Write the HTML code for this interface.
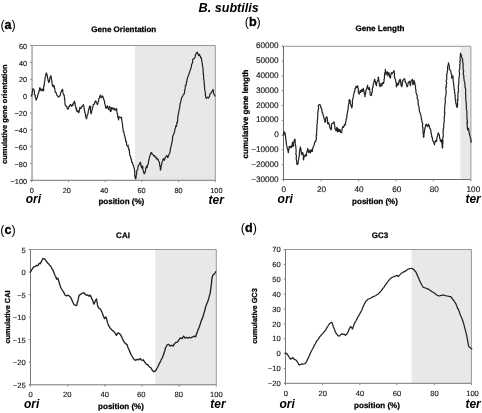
<!DOCTYPE html>
<html><head><meta charset="utf-8"><title>B. subtilis</title>
<style>
html,body{margin:0;padding:0;background:#fff;}
svg{display:block;font-family:"Liberation Sans",Arial,sans-serif;}
.t{font-size:7.6px;fill:#111;stroke:#111;stroke-width:0.12px;text-rendering:geometricPrecision;}
.b{font-size:8px;font-weight:bold;fill:#000;stroke:#000;stroke-width:0.25px;text-rendering:geometricPrecision;}
.o{font-size:12px;font-weight:bold;font-style:italic;fill:#000;}
.l{font-size:12.6px;fill:#000;}
</style></head><body>
<svg width="482" height="413" viewBox="0 0 482 413">
<rect width="482" height="413" fill="#fff"/>
<text x="198.6" y="11.5" style="font-size:12.6px;font-weight:bold;font-style:italic;fill:#000">B. subtilis</text>

<g>
<rect x="135.0" y="45.5" width="80.3" height="134.9" fill="#e8e8e8"/>
<path d="M30.3,45.5 H215.3 V180.4" fill="none" stroke="#999" stroke-width="1"/>
<path d="M32.1,45.5 V180.4" fill="none" stroke="#bababa" stroke-width="2"/>
<path d="M30.3,180.4 H215.3" fill="none" stroke="#909090" stroke-width="1.2"/>
<path d="M30.0,45.5 H31.8 M30.0,62.4 H31.8 M30.0,79.3 H31.8 M30.0,96.1 H31.8 M30.0,113.0 H31.8 M30.0,129.9 H31.8 M30.0,146.7 H31.8 M30.0,163.6 H31.8 M30.0,180.4 H31.8 M31.8,180.4 V182.2 M68.5,180.4 V182.2 M105.2,180.4 V182.2 M141.9,180.4 V182.2 M178.6,180.4 V182.2 M215.3,180.4 V182.2" fill="none" stroke="#888" stroke-width="1"/>
<text class="t" style="font-size:7.3px" x="27.0" y="48.6" text-anchor="end">60</text>
<text class="t" style="font-size:7.3px" x="27.0" y="65.5" text-anchor="end">40</text>
<text class="t" style="font-size:7.3px" x="27.0" y="82.4" text-anchor="end">20</text>
<text class="t" style="font-size:7.3px" x="27.0" y="99.2" text-anchor="end">0</text>
<text class="t" style="font-size:7.3px" x="27.0" y="116.1" text-anchor="end">−20</text>
<text class="t" style="font-size:7.3px" x="27.0" y="133.0" text-anchor="end">−40</text>
<text class="t" style="font-size:7.3px" x="27.0" y="149.8" text-anchor="end">−60</text>
<text class="t" style="font-size:7.3px" x="27.0" y="166.7" text-anchor="end">−80</text>
<text class="t" style="font-size:7.3px" x="27.0" y="183.5" text-anchor="end">−100</text>
<text class="t" style="font-size:7.3px" x="31.8" y="192.9" text-anchor="middle">0</text>
<text class="t" style="font-size:7.3px" x="66.7" y="192.9" text-anchor="middle">20</text>
<text class="t" style="font-size:7.3px" x="104.2" y="192.9" text-anchor="middle">40</text>
<text class="t" style="font-size:7.3px" x="141.6" y="192.9" text-anchor="middle">60</text>
<text class="t" style="font-size:7.3px" x="178.6" y="192.9" text-anchor="middle">80</text>
<text class="t" style="font-size:7.3px" x="216.4" y="192.9" text-anchor="middle">100</text>
<path d="M31.7,96.0 L31.7,95.5 L32.2,93.0 L32.2,92.2 L32.5,91.6 L32.6,89.8 L32.9,88.6 L33.8,89.4 L34.2,90.4 L34.4,90.6 L34.4,93.2 L34.5,94.7 L34.8,95.0 L35.4,95.1 L35.1,97.1 L36.0,97.9 L35.8,99.0 L36.3,100.2 L36.4,98.6 L37.1,98.1 L37.5,97.1 L37.6,95.5 L37.9,94.9 L38.2,93.0 L38.7,93.0 L38.8,91.9 L39.2,90.2 L39.7,90.5 L39.5,88.4 L40.0,87.7 L40.5,89.2 L41.0,89.6 L41.1,90.8 L41.8,90.1 L42.1,88.8 L42.6,90.0 L43.4,90.8 L43.7,90.4 L43.7,88.7 L43.5,86.8 L44.2,86.0 L43.9,85.1 L44.4,84.2 L44.4,82.5 L44.6,81.5 L44.8,80.8 L45.0,78.9 L45.2,76.9 L45.2,77.1 L45.9,75.6 L45.8,74.2 L46.2,73.1 L46.7,73.2 L46.9,75.2 L47.2,75.3 L47.5,75.8 L47.5,78.2 L47.7,78.4 L48.0,79.3 L48.1,80.6 L48.8,80.5 L48.7,82.5 L49.2,82.1 L49.5,80.9 L49.7,79.5 L49.8,78.4 L50.2,77.3 L50.2,77.3 L50.8,75.7 L51.1,76.2 L51.2,78.0 L51.4,78.9 L51.7,80.6 L51.9,81.5 L52.1,82.4 L52.0,83.0 L52.3,84.8 L52.9,86.2 L52.9,86.7 L53.6,86.6 L53.9,85.2 L54.0,87.0 L54.5,86.6 L54.3,87.6 L54.9,89.2 L55.0,90.8 L55.3,92.3 L56.0,92.3 L56.6,94.4 L57.0,95.3 L57.5,95.7 L58.3,97.1 L59.4,96.2 L60.2,95.6 L60.4,94.3 L60.6,92.9 L61.2,91.9 L61.6,90.3 L61.8,90.9 L62.4,89.2 L62.7,89.8 L62.9,92.2 L62.8,91.8 L63.3,93.9 L63.6,94.9 L64.3,95.0 L64.2,96.5 L64.6,97.4 L64.5,99.4 L64.9,99.6 L64.7,101.0 L64.9,102.0 L65.0,103.3 L65.0,103.8 L65.3,105.4 L66.4,106.6 L66.8,106.4 L67.1,108.0 L67.5,109.1 L68.0,109.1 L68.7,108.0 L68.9,106.3 L69.5,106.4 L70.3,104.6 L70.7,104.7 L71.6,106.3 L72.0,106.0 L72.4,104.4 L73.0,105.1 L73.2,103.3 L74.0,102.3 L74.5,101.2 L74.6,101.9 L74.8,103.6 L75.2,103.7 L75.2,105.7 L75.7,106.4 L75.8,107.4 L76.1,109.2 L76.7,108.5 L76.5,110.2 L77.0,111.6 L77.7,111.6 L77.8,110.5 L78.1,111.0 L78.6,112.6 L79.0,112.3 L79.4,110.2 L79.6,109.9 L79.6,109.4 L79.9,107.4 L80.3,108.4 L81.1,108.5 L81.5,106.8 L82.4,106.4 L83.1,105.0 L83.4,104.7 L83.8,106.1 L84.0,106.8 L83.9,107.8 L84.4,109.6 L84.4,110.5 L85.0,112.4 L84.7,112.7 L85.0,112.7 L85.5,114.7 L85.5,116.5 L86.2,117.4 L86.2,118.0 L86.5,118.8 L86.9,117.6 L87.0,116.2 L87.0,115.3 L87.7,114.8 L87.8,113.7 L88.3,112.5 L88.1,112.2 L88.7,109.6 L88.8,108.7 L89.0,108.5 L89.2,108.4 L89.5,106.3 L90.2,106.0 L90.7,107.1 L90.3,107.9 L90.5,110.3 L90.6,111.9 L90.9,113.3 L91.1,113.7 L91.6,112.2 L91.5,111.5 L91.8,110.8 L92.3,109.5 L92.3,107.5 L93.1,107.0 L93.1,106.3 L93.2,104.5 L93.6,104.3 L94.4,104.2 L94.8,102.2 L95.7,100.9 L96.0,101.2 L96.3,102.6 L97.2,103.6 L97.3,104.7 L97.8,103.9 L98.0,102.5 L98.5,101.2 L98.7,99.7 L98.8,98.7 L99.6,98.0 L99.6,97.3 L99.8,96.0 L100.5,95.3 L100.6,95.0 L100.8,95.5 L101.1,97.5 L101.4,97.7 L102.3,96.5 L102.7,96.0 L102.9,97.1 L103.4,98.3 L103.5,98.2 L103.9,100.2 L104.1,100.3 L104.6,101.4 L104.6,103.5 L105.2,104.3 L105.3,105.9 L105.6,107.1 L105.6,107.4 L106.0,108.5 L106.6,106.8 L107.1,106.2 L107.3,106.0 L107.8,108.1 L108.3,108.0 L108.5,109.5 L108.5,108.5 L109.3,107.0 L109.3,106.4 L109.8,106.7 L110.1,107.5 L110.0,110.3 L110.5,111.4 L110.6,111.6 L111.1,111.0 L111.3,108.9 L111.5,107.8 L111.8,107.4 L112.6,108.8 L113.1,109.5 L113.5,108.1 L114.3,108.5 L115.0,110.1 L115.1,110.5 L115.8,109.6 L116.4,108.5 L116.8,109.4 L116.7,110.2 L116.7,110.6 L117.1,112.4 L117.2,113.7 L117.5,114.0 L117.6,115.4 L117.7,116.9 L118.4,118.4 L118.5,119.9 L118.7,119.1 L118.8,116.8 L119.3,116.8 L119.9,117.3 L120.5,117.8 L121.4,117.2 L121.6,118.2 L121.8,119.9 L121.7,120.6 L122.0,121.2 L122.2,123.0 L122.4,124.0 L122.8,126.1 L122.6,126.7 L122.6,126.8 L123.1,129.6 L123.2,130.1 L123.3,131.7 L124.0,131.8 L124.1,133.9 L124.2,134.6 L124.5,135.3 L124.9,136.5 L125.2,138.1 L125.5,138.5 L125.3,138.9 L125.7,140.5 L125.8,141.6 L126.4,141.6 L126.6,144.0 L126.6,144.6 L127.0,145.6 L127.4,145.9 L128.2,145.2 L128.1,147.5 L128.8,148.0 L128.7,149.9 L129.3,149.6 L129.4,152.3 L129.5,152.9 L129.7,154.2 L129.8,155.5 L130.0,155.6 L130.6,156.4 L130.7,157.5 L130.8,158.7 L131.5,159.2 L131.5,159.9 L131.6,162.1 L132.1,162.3 L132.6,162.4 L132.7,163.8 L132.9,164.9 L133.1,165.0 L133.7,165.9 L133.8,167.5 L133.9,167.4 L134.4,169.0 L134.4,169.3 L134.6,171.7 L134.9,172.1 L134.6,174.0 L134.7,175.3 L135.0,176.3 L135.0,177.5 L135.6,178.7 L135.6,178.9 L136.1,177.8 L136.0,177.2 L136.2,175.3 L136.6,174.4 L136.5,172.8 L136.5,172.8 L136.7,171.6 L137.1,170.1 L137.4,170.0 L137.8,169.0 L137.9,167.0 L138.1,166.2 L138.7,165.4 L139.2,164.3 L139.5,163.9 L140.0,162.8 L140.4,162.3 L140.6,162.3 L140.8,164.3 L141.0,165.4 L141.1,166.1 L141.6,167.5 L141.6,168.0 L141.9,167.3 L142.2,165.9 L142.5,166.1 L142.9,167.5 L142.7,168.2 L143.2,170.6 L143.5,171.0 L143.5,172.2 L144.1,173.0 L144.1,174.0 L144.7,173.2 L145.2,171.8 L145.4,171.7 L145.6,169.6 L145.7,167.9 L146.2,167.6 L146.4,166.5 L146.6,166.2 L147.0,168.0 L147.2,166.8 L147.4,166.7 L147.6,164.9 L148.0,164.2 L148.4,163.0 L148.5,161.3 L148.7,160.7 L149.1,159.5 L149.3,158.2 L149.6,156.9 L149.9,156.3 L150.1,155.0 L150.7,154.6 L150.7,153.0 L151.6,152.4 L152.1,153.8 L152.2,154.0 L153.0,154.5 L153.5,155.5 L153.7,156.1 L154.5,155.6 L154.8,156.1 L155.3,157.6 L156.1,157.1 L156.6,158.9 L156.8,159.2 L157.6,158.7 L158.0,159.0 L158.4,160.7 L159.0,161.5 L159.3,162.3 L159.4,162.6 L159.7,165.2 L159.9,165.9 L160.0,166.7 L160.3,167.0 L160.3,169.9 L160.5,170.1 L160.8,168.8 L161.0,168.2 L161.1,167.0 L161.2,165.3 L161.8,164.4 L161.7,163.9 L161.7,163.7 L162.2,161.9 L162.4,161.3 L162.7,160.7 L163.0,159.2 L163.6,158.7 L163.7,159.8 L164.2,160.2 L164.7,159.8 L164.9,158.2 L165.5,157.1 L165.8,156.8 L166.3,156.1 L167.1,155.6 L167.3,156.7 L167.8,157.6 L168.0,157.2 L168.6,155.6 L169.2,154.2 L169.4,153.5 L169.5,153.4 L170.1,152.1 L170.2,150.4 L170.2,150.1 L170.7,147.9 L170.9,147.3 L171.0,146.7 L171.5,144.6 L171.5,144.1 L171.8,142.4 L172.2,142.0 L172.1,141.0 L172.5,140.3 L172.5,138.3 L172.7,136.9 L172.6,136.9 L173.0,135.3 L173.4,134.9 L173.7,134.0 L174.3,132.8 L174.7,131.2 L174.7,130.2 L175.2,128.4 L175.5,128.0 L175.7,125.9 L176.4,126.4 L176.8,124.5 L176.8,122.4 L177.3,122.9 L177.6,121.3 L177.5,120.6 L177.8,118.8 L177.7,118.0 L177.9,116.3 L178.3,115.0 L178.3,113.6 L178.8,112.8 L178.9,111.1 L179.0,110.5 L179.3,109.0 L179.5,108.9 L179.9,106.0 L180.0,106.4 L179.9,104.3 L180.2,103.3 L180.5,103.1 L180.7,102.0 L181.2,99.5 L181.5,98.2 L181.5,98.1 L181.9,97.4 L182.7,96.0 L183.1,94.9 L184.0,94.4 L184.0,93.2 L184.7,92.9 L184.5,90.1 L185.2,89.0 L185.2,88.8 L185.3,86.8 L185.4,85.4 L185.9,85.6 L186.2,84.6 L186.4,82.5 L186.5,81.5 L186.9,81.4 L187.2,78.9 L187.1,79.3 L187.7,77.3 L188.2,76.0 L188.6,75.4 L189.0,74.2 L189.3,72.3 L189.5,72.0 L189.7,71.9 L190.2,70.1 L190.5,69.2 L191.0,68.2 L191.3,67.0 L191.5,65.3 L191.6,65.1 L191.9,63.9 L192.6,62.6 L192.7,60.7 L192.8,59.1 L193.7,59.0 L193.9,58.3 L194.5,58.4 L195.2,56.6 L195.2,55.7 L195.8,54.0 L196.1,54.2 L196.4,52.9 L197.3,52.2 L197.7,53.5 L198.1,53.7 L198.5,55.6 L199.3,54.4 L199.8,54.9 L199.7,55.6 L200.4,56.4 L200.6,57.6 L201.4,57.6 L201.4,59.3 L201.9,60.4 L201.8,60.6 L201.9,61.9 L202.2,62.8 L202.3,63.7 L202.6,66.1 L202.6,65.6 L202.8,67.5 L203.1,69.2 L203.2,70.3 L203.1,71.1 L203.2,73.1 L203.5,73.1 L203.2,74.4 L203.6,75.1 L203.6,77.2 L203.5,78.9 L203.9,79.4 L204.1,80.2 L204.0,81.5 L204.2,83.5 L204.4,84.2 L204.3,86.2 L204.5,86.2 L204.7,87.7 L204.6,89.9 L205.0,90.9 L205.3,92.2 L205.4,93.3 L205.6,94.2 L205.2,94.9 L205.6,96.0 L205.9,97.8 L206.3,98.1 L206.4,98.5 L207.2,97.5 L207.6,97.1 L208.3,97.9 L208.5,98.1 L208.8,97.2 L209.6,96.5 L209.7,95.6 L209.9,93.9 L210.5,93.5 L211.3,92.8 L211.8,91.9 L212.4,90.4 L212.6,90.7 L213.0,89.4 L213.0,89.8 L213.5,91.4 L213.4,92.6 L213.9,94.4 L214.6,95.2 L215.1,96.0" fill="none" stroke="#222" stroke-width="1.2" stroke-linejoin="round" stroke-linecap="round"/>
<text class="b" x="123.8" y="31.8" text-anchor="middle">Gene Orientation</text>
<text class="b" x="121.3" y="203.9" text-anchor="middle">position (%)</text>
<text class="b" style="font-size:7.5px" transform="translate(7.0,114.2) rotate(-90)" text-anchor="middle">cumulative gene orientation</text>
<text class="o" x="25.7" y="202.9">ori</text>
<text class="o" x="208.6" y="203.6">ter</text>
<text class="l" x="0.4" y="28.5">(<tspan font-weight="bold" stroke="#000" stroke-width="0.3">a</tspan>)</text>
</g>
<g>
<rect x="460.5" y="46.3" width="10.4" height="133.2" fill="#e8e8e8"/>
<path d="M282.0,46.3 H470.9 V179.5" fill="none" stroke="#999" stroke-width="1"/>
<path d="M283.5,46.3 V179.5 M282.0,179.5 H470.9" fill="none" stroke="#666" stroke-width="1"/>
<path d="M281.7,46.3 H283.5 M281.7,61.1 H283.5 M281.7,75.9 H283.5 M281.7,90.7 H283.5 M281.7,105.5 H283.5 M281.7,120.3 H283.5 M281.7,135.1 H283.5 M281.7,149.9 H283.5 M281.7,164.7 H283.5 M281.7,179.5 H283.5 M283.5,179.5 V181.3 M321.0,179.5 V181.3 M358.5,179.5 V181.3 M395.9,179.5 V181.3 M433.4,179.5 V181.3 M470.9,179.5 V181.3" fill="none" stroke="#888" stroke-width="1"/>
<text class="t" style="font-size:8.2px" x="278.7" y="48.3" text-anchor="end">60000</text>
<text class="t" style="font-size:8.2px" x="278.7" y="63.1" text-anchor="end">50000</text>
<text class="t" style="font-size:8.2px" x="278.7" y="77.9" text-anchor="end">40000</text>
<text class="t" style="font-size:8.2px" x="278.7" y="92.7" text-anchor="end">30000</text>
<text class="t" style="font-size:8.2px" x="278.7" y="107.5" text-anchor="end">20000</text>
<text class="t" style="font-size:8.2px" x="278.7" y="122.3" text-anchor="end">10000</text>
<text class="t" style="font-size:8.2px" x="278.7" y="137.1" text-anchor="end">0</text>
<text class="t" style="font-size:8.2px" x="278.7" y="151.9" text-anchor="end">−10000</text>
<text class="t" style="font-size:8.2px" x="278.7" y="166.7" text-anchor="end">−20000</text>
<text class="t" style="font-size:8.2px" x="278.7" y="181.5" text-anchor="end">−30000</text>
<text class="t" style="font-size:8.2px" x="283.8" y="192.3" text-anchor="middle">0</text>
<text class="t" style="font-size:8.2px" x="321.5" y="192.3" text-anchor="middle">20</text>
<text class="t" style="font-size:8.2px" x="359.0" y="192.3" text-anchor="middle">40</text>
<text class="t" style="font-size:8.2px" x="396.7" y="192.3" text-anchor="middle">60</text>
<text class="t" style="font-size:8.2px" x="434.3" y="192.3" text-anchor="middle">80</text>
<text class="t" style="font-size:8.2px" x="473.4" y="192.3" text-anchor="middle">100</text>
<path d="M283.3,135.0 L283.9,134.8 L283.6,132.1 L284.1,131.9 L284.8,132.9 L285.0,132.9 L285.2,133.8 L285.4,135.6 L285.5,136.0 L285.6,137.7 L285.8,139.1 L286.1,141.4 L286.4,141.7 L286.3,142.4 L286.2,143.2 L286.6,145.4 L286.9,146.0 L287.1,148.2 L287.5,148.5 L287.7,149.6 L287.7,149.6 L288.0,150.9 L288.3,152.6 L288.5,152.4 L288.7,149.5 L289.0,149.5 L289.1,148.4 L289.1,146.4 L289.7,147.5 L290.0,147.4 L290.3,147.7 L290.8,146.0 L291.5,146.0 L291.6,147.4 L291.9,146.8 L291.9,145.4 L292.1,145.2 L292.3,143.9 L292.4,142.2 L292.6,144.0 L293.1,144.2 L293.1,146.2 L293.3,146.4 L293.6,145.1 L293.4,143.5 L293.9,142.0 L294.2,140.9 L294.1,140.2 L294.8,139.3 L294.9,139.1 L295.3,140.7 L295.1,141.5 L295.3,142.8 L295.2,143.2 L295.5,145.8 L295.6,145.3 L295.9,147.7 L295.8,148.5 L296.1,149.1 L296.1,150.1 L296.1,151.7 L295.9,154.2 L295.9,154.7 L296.5,155.4 L296.2,157.9 L296.4,158.9 L296.2,159.4 L296.6,160.9 L296.7,162.5 L296.9,164.3 L297.4,164.6 L297.6,164.3 L298.3,163.0 L298.1,161.3 L298.8,159.8 L298.6,159.6 L298.9,157.1 L299.1,156.8 L299.5,154.8 L299.1,154.0 L299.7,153.5 L299.5,151.5 L299.9,150.5 L299.8,149.2 L300.4,148.5 L300.3,146.8 L300.8,148.5 L301.0,149.6 L300.9,149.8 L301.2,151.6 L301.5,152.2 L301.5,153.5 L302.0,154.7 L302.6,152.9 L302.8,152.6 L303.0,153.6 L303.1,154.3 L303.5,155.8 L303.4,157.3 L303.2,158.8 L303.7,159.9 L303.7,158.0 L303.9,157.1 L304.5,156.8 L304.7,156.0 L305.3,154.7 L305.7,156.2 L306.1,155.7 L306.6,155.7 L306.4,153.5 L306.6,152.8 L307.0,151.6 L307.3,151.1 L307.6,149.0 L307.8,148.5 L308.0,149.6 L307.9,149.6 L308.4,150.8 L308.6,152.6 L309.2,151.1 L309.5,150.5 L309.5,150.7 L309.9,151.6 L310.3,153.0 L310.6,151.8 L310.7,151.0 L311.1,149.5 L311.4,151.4 L312.0,151.6 L312.5,151.0 L312.5,149.5 L312.8,148.5 L313.2,146.5 L313.6,146.4 L314.0,145.4 L314.4,144.3 L314.5,142.5 L315.2,142.0 L315.3,141.2 L315.7,141.5 L316.1,140.2 L316.3,138.6 L316.6,137.6 L316.1,137.1 L316.2,135.2 L316.8,134.7 L316.4,133.2 L316.7,132.1 L316.7,131.1 L316.9,129.8 L316.7,128.1 L317.0,128.1 L316.9,126.5 L317.0,124.8 L317.2,123.3 L317.5,121.9 L317.1,120.1 L317.2,120.3 L317.6,119.2 L317.7,116.1 L317.7,116.3 L317.8,114.5 L317.8,113.2 L317.8,112.0 L318.2,110.5 L318.1,109.8 L318.5,109.3 L318.6,108.2 L318.3,105.9 L318.6,105.3 L319.4,104.5 L320.2,104.9 L320.5,105.5 L320.8,107.3 L321.1,108.0 L321.6,109.1 L321.8,109.0 L321.9,110.7 L322.2,112.7 L322.7,112.8 L322.7,113.7 L322.9,114.0 L323.6,116.9 L323.6,116.9 L323.9,117.0 L324.0,118.1 L324.4,119.4 L324.8,120.8 L324.9,121.5 L325.2,122.5 L325.2,121.6 L325.8,121.0 L325.5,119.5 L326.0,117.9 L326.1,117.3 L326.9,116.9 L327.3,118.0 L327.3,119.0 L327.6,120.8 L327.5,120.6 L327.5,121.5 L327.7,123.6 L328.2,123.8 L328.5,122.5 L328.8,123.6 L329.4,124.6 L329.6,125.5 L329.9,127.6 L330.1,127.7 L330.2,128.8 L330.9,128.9 L331.0,129.8 L331.4,128.9 L331.5,128.0 L331.4,126.3 L331.6,125.1 L331.9,123.6 L332.7,123.2 L333.4,122.8 L333.5,121.9 L334.4,122.5 L334.2,123.7 L334.8,125.8 L334.9,126.9 L334.7,128.4 L335.2,128.8 L335.7,130.0 L336.0,130.8 L336.5,130.4 L336.3,129.1 L336.8,127.3 L337.2,127.8 L337.4,129.8 L337.3,131.3 L337.7,131.9 L337.7,131.1 L338.2,129.3 L338.5,128.8 L338.8,129.6 L338.9,131.5 L339.3,131.5 L339.5,129.6 L340.2,129.8 L340.4,131.5 L340.8,132.4 L341.0,132.9 L341.4,132.7 L341.8,131.9 L341.9,130.4 L342.2,128.8 L342.1,129.3 L342.3,128.2 L342.7,126.7 L343.5,127.3 L343.9,126.2 L344.1,126.1 L344.3,124.6 L345.1,125.2 L345.6,123.3 L345.5,122.5 L346.0,121.5 L346.1,120.0 L346.0,119.5 L346.8,118.1 L346.7,117.1 L346.8,116.3 L346.9,116.0 L347.0,114.5 L347.3,113.3 L347.7,111.3 L347.6,111.1 L348.0,109.5 L348.1,109.2 L348.2,107.2 L348.5,105.3 L348.5,104.9 L348.7,103.6 L348.8,103.5 L349.1,102.0 L349.0,100.2 L349.3,99.7 L349.7,99.7 L350.1,100.7 L350.2,102.7 L350.2,103.5 L350.5,103.6 L350.7,104.1 L351.0,105.9 L351.3,106.3 L351.8,108.0 L351.9,106.4 L352.3,106.4 L352.2,104.7 L352.6,102.8 L352.2,101.4 L352.6,100.7 L352.6,100.1 L352.9,98.4 L353.3,97.1 L353.5,96.9 L353.4,95.6 L353.6,95.2 L353.8,94.2 L354.3,92.5 L354.3,91.4 L354.7,91.3 L355.0,89.8 L355.1,88.3 L355.7,88.1 L355.9,86.2 L356.5,87.7 L356.8,87.3 L357.1,86.8 L357.6,85.8 L357.9,86.7 L357.9,87.4 L358.4,88.9 L358.2,91.1 L358.4,91.4 L358.5,93.2 L358.8,92.3 L359.3,94.1 L359.4,92.6 L360.1,92.4 L360.1,90.4 L360.7,91.3 L360.9,92.4 L361.2,90.9 L361.7,90.2 L361.7,89.3 L362.0,90.6 L362.6,91.4 L362.6,90.0 L363.4,88.5 L363.4,88.3 L363.4,88.7 L363.7,90.2 L363.9,91.1 L364.2,92.4 L364.3,93.0 L364.7,94.2 L364.8,96.1 L365.1,96.6 L365.0,94.6 L365.6,94.0 L365.7,92.1 L365.7,92.3 L365.9,90.4 L366.2,89.9 L366.7,88.3 L367.1,87.1 L367.6,86.0 L367.6,85.2 L367.7,86.5 L367.9,87.9 L368.2,88.5 L368.4,89.3 L368.8,89.3 L369.2,87.3 L369.7,89.2 L369.6,89.6 L369.8,90.1 L370.0,92.3 L370.1,94.4 L370.5,95.3 L371.1,95.6 L371.6,95.3 L371.6,93.0 L372.2,92.3 L372.5,90.2 L372.2,89.8 L372.4,88.3 L372.9,87.1 L373.2,87.1 L373.1,85.8 L373.1,85.5 L373.5,83.5 L373.9,82.5 L374.2,80.7 L374.5,79.4 L374.8,79.2 L374.8,81.1 L375.4,81.4 L375.6,83.2 L375.7,83.6 L375.9,84.6 L376.5,85.8 L376.5,83.9 L376.7,83.0 L376.9,81.9 L377.4,81.4 L377.6,80.6 L378.1,80.0 L378.2,78.1 L378.3,77.0 L378.7,77.5 L378.4,79.9 L378.9,79.7 L378.9,81.0 L379.2,82.5 L379.3,83.4 L379.5,85.3 L380.0,85.9 L380.0,86.8 L380.3,85.3 L380.8,85.6 L380.9,83.6 L381.2,85.1 L381.8,85.8 L382.2,85.0 L382.1,83.7 L382.6,82.5 L382.9,82.4 L383.5,83.6 L383.7,82.8 L383.9,81.9 L384.1,80.3 L383.8,79.8 L384.4,78.8 L384.4,77.0 L384.6,74.8 L384.5,73.7 L384.9,73.3 L384.8,72.9 L385.4,71.5 L385.3,69.4 L385.4,70.1 L385.4,72.2 L385.9,72.2 L386.2,73.9 L386.1,74.9 L386.4,73.6 L386.8,72.6 L387.0,71.6 L387.3,71.9 L387.6,73.3 L387.9,74.3 L387.9,75.9 L388.1,74.9 L388.4,73.8 L388.7,72.7 L389.2,73.2 L389.3,75.2 L389.6,75.8 L389.6,77.0 L390.0,77.3 L390.5,78.1 L390.6,76.5 L390.6,75.9 L390.8,74.8 L391.2,73.4 L391.4,72.7 L391.6,73.4 L392.2,73.8 L392.9,72.5 L393.1,72.2 L393.6,71.7 L394.0,70.5 L394.3,72.1 L394.1,72.5 L394.6,73.9 L394.3,76.3 L394.5,76.5 L394.8,78.1 L395.0,78.7 L395.6,80.0 L395.7,81.4 L395.8,82.3 L396.3,82.6 L396.3,83.9 L396.2,86.0 L396.6,86.8 L396.8,84.9 L397.2,85.5 L397.5,83.6 L398.0,84.1 L398.3,84.7 L398.7,84.4 L398.5,82.1 L399.3,82.2 L399.2,80.3 L399.5,80.2 L400.1,79.2 L400.5,80.5 L400.6,81.4 L400.6,81.9 L400.9,83.6 L401.0,85.0 L401.3,86.0 L401.8,86.8 L401.9,85.6 L402.4,84.4 L402.2,83.3 L402.2,81.9 L402.6,82.0 L402.7,80.3 L402.9,80.7 L403.6,79.2 L404.4,78.8 L404.8,79.1 L405.1,81.1 L405.3,82.5 L405.7,82.2 L406.2,83.6 L406.5,84.7 L406.9,85.9 L407.0,86.8 L407.6,86.2 L407.9,84.7 L408.2,82.6 L408.8,82.5 L409.2,81.2 L409.7,81.4 L409.7,82.1 L410.1,83.8 L410.4,85.5 L410.5,85.8 L410.5,84.8 L410.6,83.9 L411.0,81.8 L411.1,81.7 L411.4,80.3 L411.8,80.6 L412.3,79.2 L412.4,80.0 L412.9,81.6 L412.6,83.1 L412.9,84.5 L413.1,84.7 L413.4,84.2 L413.8,82.5 L414.1,80.4 L414.0,80.3 L414.3,82.1 L414.9,82.5 L414.7,84.1 L415.5,85.5 L415.5,85.4 L415.5,87.8 L415.6,88.7 L415.8,90.1 L416.1,90.5 L415.9,92.5 L416.7,94.0 L416.6,94.5 L416.9,95.1 L417.3,95.7 L417.1,98.3 L417.5,98.8 L417.9,99.7 L418.1,100.2 L418.1,101.2 L418.0,102.6 L418.4,104.3 L418.2,105.2 L418.7,106.0 L419.0,106.6 L419.1,108.7 L419.2,109.7 L419.5,111.6 L419.6,111.7 L420.1,113.0 L420.4,113.8 L421.0,115.3 L421.0,116.3 L421.2,117.2 L421.4,119.3 L421.8,119.8 L421.9,120.6 L421.9,121.9 L422.2,122.5 L422.7,123.9 L422.6,124.9 L422.4,126.6 L423.1,127.7 L422.9,128.1 L422.9,129.8 L423.0,130.7 L423.0,132.9 L423.5,134.3 L423.4,133.9 L423.4,136.8 L423.6,137.3 L424.0,136.2 L423.9,135.2 L423.9,134.0 L424.2,133.1 L424.4,131.4 L424.6,129.9 L424.8,128.7 L425.0,128.3 L425.5,126.0 L425.6,124.9 L426.6,124.1 L426.9,125.7 L427.4,126.0 L427.6,126.6 L428.2,125.0 L428.3,125.1 L428.5,124.1 L428.9,126.1 L429.5,126.1 L429.5,127.4 L429.9,128.7 L430.3,128.8 L430.5,129.9 L431.0,130.8 L430.8,132.7 L431.4,133.4 L431.5,134.9 L431.8,137.1 L432.2,137.2 L432.5,138.7 L432.5,139.8 L433.0,141.0 L433.5,141.5 L434.0,143.4 L434.3,144.0 L434.5,144.8 L434.7,142.9 L435.0,142.0 L435.5,141.4 L435.5,140.7 L436.5,141.5 L436.8,140.8 L436.7,139.8 L437.0,137.2 L437.4,136.7 L437.5,135.7 L438.1,134.7 L437.9,133.1 L438.5,133.2 L438.6,134.3 L439.3,134.5 L439.5,136.5 L439.6,137.7 L440.2,139.9 L440.5,140.5 L440.5,141.5 L441.0,140.1 L441.5,139.8 L441.7,140.4 L441.7,142.9 L442.0,143.8 L442.0,144.1 L442.2,145.9 L442.2,147.6 L442.5,148.1 L442.8,146.3 L442.4,146.3 L442.8,143.8 L442.8,142.6 L443.0,142.1 L442.8,140.0 L442.8,139.4 L442.8,137.5 L442.8,137.3 L443.3,136.4 L443.2,135.0 L443.2,133.2 L443.0,131.5 L443.5,130.0 L443.2,130.4 L443.4,128.1 L443.6,128.3 L443.8,126.6 L443.6,126.1 L443.9,124.2 L444.0,122.1 L444.4,120.9 L444.4,121.1 L444.3,120.0 L444.1,117.1 L444.5,116.6 L444.5,114.5 L444.8,114.2 L444.8,112.4 L444.4,112.4 L444.6,110.2 L444.6,109.3 L444.8,107.3 L444.6,106.3 L444.9,105.4 L445.2,103.5 L445.0,103.2 L445.3,102.3 L445.4,101.2 L445.2,100.2 L445.2,97.3 L445.4,97.4 L445.7,96.5 L445.8,94.5 L446.2,94.1 L446.0,91.7 L446.3,91.2 L445.9,89.6 L445.8,87.3 L446.3,87.4 L446.5,86.3 L446.1,85.0 L446.7,83.6 L446.4,81.6 L446.2,81.0 L446.8,78.8 L446.8,79.1 L446.7,77.0 L446.7,76.5 L446.7,74.1 L447.1,74.1 L447.2,71.2 L447.6,71.0 L447.6,69.0 L447.6,68.3 L447.6,66.4 L447.7,66.0 L448.0,65.4 L448.5,63.6 L448.4,62.9 L448.9,64.3 L448.8,64.4 L449.4,66.5 L449.3,67.2 L449.3,68.7 L449.8,69.3 L450.2,70.5 L450.8,71.0 L451.0,72.7 L451.1,73.8 L451.6,74.0 L451.8,76.4 L451.5,77.4 L451.9,78.1 L452.4,77.5 L452.8,75.9 L453.0,76.8 L453.1,78.0 L453.2,79.6 L453.1,80.5 L453.4,82.1 L453.7,83.6 L453.8,85.2 L453.8,85.9 L454.0,86.3 L454.0,88.8 L454.6,89.7 L454.5,90.1 L454.5,90.7 L454.5,92.2 L454.9,92.9 L455.0,95.5 L455.4,95.7 L455.0,98.2 L455.4,98.8 L455.5,99.5 L455.5,100.5 L455.7,101.6 L455.8,103.2 L456.3,103.9 L456.3,105.4 L456.7,106.4 L457.1,107.5 L457.4,106.9 L457.6,104.5 L457.6,103.6 L457.5,102.8 L457.6,101.2 L457.4,99.4 L458.0,100.0 L457.8,97.2 L458.1,96.8 L457.9,95.9 L458.0,94.5 L457.9,92.6 L458.4,92.4 L458.5,90.5 L458.6,90.2 L458.4,88.9 L458.3,86.0 L458.7,84.9 L458.6,84.8 L458.8,82.5 L458.9,80.8 L458.9,81.3 L458.9,79.2 L459.0,77.6 L459.3,77.3 L459.3,76.4 L459.5,74.6 L459.5,73.3 L459.2,71.6 L459.3,69.9 L459.6,69.5 L459.8,67.6 L459.9,66.7 L459.8,66.1 L459.7,64.5 L460.2,64.1 L460.0,61.9 L459.8,61.1 L460.4,60.1 L460.3,59.8 L460.0,57.5 L460.3,56.1 L460.4,55.8 L460.3,54.6 L460.6,53.1 L460.9,54.5 L461.5,55.3 L461.6,56.9 L462.0,58.1 L462.4,58.5 L462.8,59.9 L462.3,60.7 L463.0,62.5 L463.0,63.4 L463.2,65.5 L463.1,66.1 L462.9,66.1 L463.2,68.3 L463.2,70.0 L463.6,71.3 L463.7,71.0 L463.3,72.6 L463.4,74.5 L464.0,76.3 L463.6,77.0 L464.0,78.2 L464.0,78.6 L464.1,80.3 L464.6,82.2 L464.8,82.6 L465.0,83.6 L464.8,84.4 L465.0,85.6 L465.0,87.7 L465.4,88.0 L465.6,88.9 L465.7,91.4 L465.6,92.0 L465.7,94.5 L465.5,94.3 L465.9,95.8 L465.6,97.5 L465.9,98.8 L465.7,99.5 L465.9,100.5 L466.3,102.8 L466.2,103.5 L466.4,106.1 L466.6,105.5 L466.3,106.9 L466.4,109.3 L466.6,110.0 L466.9,111.8 L467.0,112.7 L466.7,114.1 L466.9,114.5 L467.0,116.9 L466.9,118.1 L467.0,119.0 L467.4,120.3 L467.3,120.9 L467.6,122.8 L467.3,122.5 L467.1,121.6 L467.1,122.2 L467.1,123.6 L467.1,125.3 L467.4,126.0 L467.2,128.3 L467.4,127.9 L467.7,129.9 L467.9,129.6 L468.4,128.2 L468.9,130.0 L468.7,131.4 L468.8,131.2 L469.4,133.2 L469.4,134.6 L469.9,135.9 L470.4,137.4 L470.4,138.2 L470.7,138.6 L471.0,141.1 L471.1,140.4 L471.0,142.3" fill="none" stroke="#222" stroke-width="1.2" stroke-linejoin="round" stroke-linecap="round"/>
<text class="b" x="380" y="31.4" text-anchor="middle">Gene Length</text>
<text class="b" x="375" y="204.4" text-anchor="middle">position (%)</text>
<text class="b" style="font-size:8px" transform="translate(247.5,114) rotate(-90)" text-anchor="middle">cumulative gene length</text>
<text class="o" x="277.6" y="202.7">ori</text>
<text class="o" x="465.4" y="202.7">ter</text>
<text class="l" x="244.7" y="26.1">(<tspan font-weight="bold" stroke="#000" stroke-width="0.3">b</tspan>)</text>
</g>
<g>
<rect x="155.3" y="249.5" width="61.0" height="135.3" fill="#e8e8e8"/>
<path d="M29.0,249.5 H216.3 V384.8" fill="none" stroke="#999" stroke-width="1"/>
<path d="M30.5,249.5 V384.8 M29.0,384.8 H216.3" fill="none" stroke="#777" stroke-width="1"/>
<path d="M28.7,249.5 H30.5 M28.7,272.1 H30.5 M28.7,294.6 H30.5 M28.7,317.1 H30.5 M28.7,339.7 H30.5 M28.7,362.2 H30.5 M28.7,384.8 H30.5 M30.5,384.8 V386.6 M67.7,384.8 V386.6 M104.8,384.8 V386.6 M142.0,384.8 V386.6 M179.1,384.8 V386.6 M216.3,384.8 V386.6" fill="none" stroke="#888" stroke-width="1"/>
<text class="t" style="font-size:7.6px" x="25.7" y="252.6" text-anchor="end">5</text>
<text class="t" style="font-size:7.6px" x="25.7" y="275.2" text-anchor="end">0</text>
<text class="t" style="font-size:7.6px" x="25.7" y="297.7" text-anchor="end">−5</text>
<text class="t" style="font-size:7.6px" x="25.7" y="320.2" text-anchor="end">−10</text>
<text class="t" style="font-size:7.6px" x="25.7" y="342.8" text-anchor="end">−15</text>
<text class="t" style="font-size:7.6px" x="25.7" y="365.4" text-anchor="end">−20</text>
<text class="t" style="font-size:7.6px" x="25.7" y="387.9" text-anchor="end">−25</text>
<text class="t" style="font-size:7.6px" x="30.5" y="397.3" text-anchor="middle">0</text>
<text class="t" style="font-size:7.6px" x="67.2" y="397.3" text-anchor="middle">20</text>
<text class="t" style="font-size:7.6px" x="104.8" y="397.3" text-anchor="middle">40</text>
<text class="t" style="font-size:7.6px" x="141.2" y="397.3" text-anchor="middle">60</text>
<text class="t" style="font-size:7.6px" x="178.7" y="397.3" text-anchor="middle">80</text>
<text class="t" style="font-size:7.6px" x="216.3" y="397.3" text-anchor="middle">100</text>
<path d="M30.5,272.0 L31.1,271.0 L31.7,269.9 L32.3,268.9 L33.0,267.8 L33.6,267.1 L34.2,266.8 L35.5,266.2 L36.7,265.3 L38.0,265.7 L38.5,264.7 L39.2,263.3 L40.4,263.7 L40.8,262.5 L41.4,261.6 L41.7,260.6 L42.4,259.5 L42.9,258.5 L44.2,258.9 L44.8,259.2 L45.4,259.9 L46.1,261.0 L46.7,261.6 L47.3,262.5 L47.9,263.3 L48.6,263.8 L49.2,264.7 L49.8,265.3 L50.4,265.7 L51.0,266.8 L51.7,268.2 L52.3,269.1 L52.9,269.9 L53.3,271.1 L53.8,272.2 L54.1,273.0 L54.5,274.2 L55.0,275.3 L55.4,276.1 L55.9,277.0 L56.2,278.1 L56.6,279.2 L57.3,278.7 L57.9,278.2 L58.3,279.5 L58.7,280.9 L59.1,282.3 L59.5,283.8 L60.0,285.3 L60.4,286.5 L61.0,288.0 L61.6,289.0 L62.3,290.3 L62.9,291.1 L63.5,291.9 L64.1,293.1 L64.8,294.5 L65.3,295.4 L66.6,295.8 L67.8,295.2 L69.1,295.8 L69.8,296.4 L70.3,296.9 L71.0,298.0 L71.6,299.4 L72.2,300.7 L72.8,302.1 L73.4,303.2 L74.1,304.8 L75.3,305.2 L76.5,305.6 L76.9,304.7 L77.1,303.4 L77.5,302.0 L77.8,301.0 L78.1,299.9 L78.5,298.2 L78.7,296.9 L79.0,295.8 L79.7,295.0 L80.3,294.4 L81.5,293.8 L82.8,293.1 L84.0,292.7 L84.7,293.8 L85.3,294.4 L86.5,295.2 L87.8,294.8 L88.4,295.8 L89.0,296.2 L89.6,295.5 L90.2,295.2 L90.9,296.3 L91.5,297.9 L92.1,299.2 L92.7,300.6 L93.2,301.6 L93.5,303.1 L94.0,304.1 L94.4,303.3 L94.9,302.0 L95.2,301.0 L95.8,300.0 L96.5,298.9 L96.7,300.4 L97.0,301.9 L97.3,303.3 L97.5,304.9 L97.7,306.2 L98.3,307.1 L99.0,308.3 L100.0,308.7 L100.8,310.0 L101.5,311.2 L102.0,312.2 L102.5,313.8 L103.0,315.0 L103.4,316.3 L104.0,317.2 L104.5,318.7 L105.2,317.8 L106.0,316.9 L106.4,318.2 L106.8,319.8 L107.0,320.8 L107.5,322.4 L108.0,323.9 L108.4,324.9 L109.0,326.2 L109.7,327.3 L110.5,328.6 L111.2,329.2 L111.9,329.9 L112.7,330.6 L113.4,331.1 L114.2,331.9 L114.9,332.9 L115.7,333.9 L116.4,335.4 L117.2,334.2 L117.9,332.9 L118.6,333.1 L119.4,333.6 L120.2,334.4 L120.9,335.4 L121.4,336.4 L121.9,337.3 L122.4,338.6 L122.9,339.6 L123.5,340.7 L123.9,341.8 L124.7,342.5 L125.4,343.6 L126.1,344.0 L126.9,344.3 L127.4,345.7 L127.8,347.0 L128.4,348.6 L128.9,349.5 L129.4,350.9 L129.9,351.8 L130.3,352.9 L130.9,354.2 L131.4,355.3 L132.2,356.5 L132.9,357.8 L133.6,358.7 L134.4,359.8 L135.1,359.9 L135.8,360.3 L136.6,359.7 L137.3,359.3 L138.1,359.5 L138.8,359.8 L139.6,359.0 L140.3,358.5 L141.0,359.6 L141.8,360.3 L142.6,360.3 L143.3,359.8 L144.1,361.2 L144.8,362.3 L145.6,363.1 L146.3,364.2 L147.1,364.7 L147.8,364.7 L148.6,365.8 L149.3,366.7 L150.0,367.2 L150.8,367.7 L151.5,368.8 L152.3,370.2 L153.0,370.9 L153.8,371.7 L154.6,371.2 L155.3,371.2 L155.8,370.4 L156.3,369.6 L156.8,368.5 L157.6,367.3 L158.3,366.0 L158.7,365.0 L159.2,363.7 L159.7,362.8 L160.3,361.8 L160.7,361.0 L161.2,359.8 L161.8,358.7 L162.2,358.0 L162.7,356.8 L163.1,355.8 L163.5,354.4 L163.9,353.6 L164.2,352.3 L164.6,351.2 L165.0,350.0 L165.4,348.3 L165.7,347.3 L166.5,346.3 L167.2,344.8 L167.9,344.5 L168.7,344.3 L169.4,345.2 L170.2,346.1 L170.9,345.7 L171.7,345.3 L172.5,345.5 L173.2,346.1 L173.9,344.6 L174.7,343.6 L175.4,342.7 L176.2,342.3 L177.0,342.3 L177.7,341.8 L178.4,340.6 L179.2,339.4 L179.9,338.5 L180.7,337.9 L181.4,338.3 L182.2,338.6 L182.9,337.3 L183.6,336.1 L184.3,337.0 L185.1,338.1 L185.8,337.8 L186.6,337.4 L187.4,337.7 L188.1,338.1 L188.8,337.6 L189.6,337.4 L190.3,337.7 L191.1,337.9 L191.9,337.3 L192.6,336.9 L193.4,336.6 L194.1,336.1 L194.8,336.4 L195.6,336.9 L196.0,335.8 L196.3,334.7 L196.7,333.4 L197.1,332.4 L197.6,331.2 L198.0,329.9 L198.6,328.6 L199.1,327.4 L199.6,325.8 L200.1,324.4 L200.5,323.4 L200.8,322.2 L201.1,321.2 L201.6,319.9 L202.1,318.9 L202.6,317.5 L203.1,316.2 L203.5,315.0 L203.7,313.8 L204.1,312.3 L204.6,311.2 L205.0,309.6 L205.2,308.3 L205.7,306.9 L206.0,305.7 L206.5,304.6 L207.0,303.3 L207.6,302.0 L208.1,300.6 L208.5,299.2 L208.9,297.4 L209.3,296.2 L209.7,294.6 L210.1,293.4 L210.4,292.1 L210.5,290.4 L210.8,289.2 L210.9,287.4 L211.2,286.2 L211.3,284.9 L211.5,283.5 L211.6,282.1 L211.7,280.8 L211.8,279.5 L212.1,278.2 L212.2,276.9 L212.7,275.7 L213.2,274.8 L213.9,274.4 L214.4,273.8 L215.1,272.8 L215.7,271.7" fill="none" stroke="#222" stroke-width="1.35" stroke-linejoin="round" stroke-linecap="round"/>
<text class="b" x="123" y="238" text-anchor="middle">CAI</text>
<text class="b" x="121" y="408.9" text-anchor="middle">position (%)</text>
<text class="b" style="font-size:7.35px" transform="translate(10.2,317) rotate(-90)" text-anchor="middle">cumulative CAI</text>
<text class="o" x="24" y="407.7">ori</text>
<text class="o" x="210.3" y="408">ter</text>
<text class="l" x="0.3" y="233.8">(<tspan font-weight="bold" stroke="#000" stroke-width="0.3">c</tspan>)</text>
</g>
<g>
<rect x="411.7" y="249.5" width="59.7" height="133.8" fill="#e8e8e8"/>
<path d="M284.0,249.5 H471.4 V383.3" fill="none" stroke="#999" stroke-width="1"/>
<path d="M285.5,249.5 V383.3 M284.0,383.3 H471.4" fill="none" stroke="#777" stroke-width="1"/>
<path d="M283.7,249.5 H285.5 M283.7,264.4 H285.5 M283.7,279.2 H285.5 M283.7,294.1 H285.5 M283.7,309.0 H285.5 M283.7,323.9 H285.5 M283.7,338.7 H285.5 M283.7,353.6 H285.5 M283.7,368.5 H285.5 M283.7,383.3 H285.5 M285.5,383.3 V385.1 M322.7,383.3 V385.1 M359.9,383.3 V385.1 M397.0,383.3 V385.1 M434.2,383.3 V385.1 M471.4,383.3 V385.1" fill="none" stroke="#888" stroke-width="1"/>
<text class="t" style="font-size:7.6px" x="280.7" y="252.1" text-anchor="end">70</text>
<text class="t" style="font-size:7.6px" x="280.7" y="267.0" text-anchor="end">60</text>
<text class="t" style="font-size:7.6px" x="280.7" y="281.8" text-anchor="end">50</text>
<text class="t" style="font-size:7.6px" x="280.7" y="296.7" text-anchor="end">40</text>
<text class="t" style="font-size:7.6px" x="280.7" y="311.6" text-anchor="end">30</text>
<text class="t" style="font-size:7.6px" x="280.7" y="326.5" text-anchor="end">20</text>
<text class="t" style="font-size:7.6px" x="280.7" y="341.3" text-anchor="end">10</text>
<text class="t" style="font-size:7.6px" x="280.7" y="356.2" text-anchor="end">0</text>
<text class="t" style="font-size:7.6px" x="280.7" y="371.1" text-anchor="end">−10</text>
<text class="t" style="font-size:7.6px" x="280.7" y="385.9" text-anchor="end">−20</text>
<text class="t" style="font-size:7.6px" x="285.8" y="396.0" text-anchor="middle">0</text>
<text class="t" style="font-size:7.6px" x="322.7" y="396.0" text-anchor="middle">20</text>
<text class="t" style="font-size:7.6px" x="359.9" y="396.0" text-anchor="middle">40</text>
<text class="t" style="font-size:7.6px" x="397.0" y="396.0" text-anchor="middle">60</text>
<text class="t" style="font-size:7.6px" x="434.6" y="396.0" text-anchor="middle">80</text>
<text class="t" style="font-size:7.6px" x="472.5" y="396.0" text-anchor="middle">100</text>
<path d="M285.3,352.9 L286.6,353.5 L287.8,355.0 L288.4,355.9 L289.1,357.1 L289.7,358.0 L290.3,359.1 L291.5,358.7 L292.8,357.5 L293.4,358.3 L294.0,359.1 L295.3,359.8 L296.5,360.6 L297.2,361.7 L297.8,362.7 L298.4,363.7 L299.0,364.9 L300.3,364.7 L301.5,363.9 L302.7,364.1 L304.0,363.9 L305.2,363.5 L305.9,362.6 L306.5,361.8 L307.1,360.4 L307.7,359.1 L308.3,357.9 L309.0,356.4 L309.6,355.1 L310.2,353.5 L310.9,352.1 L311.5,350.8 L312.1,349.8 L312.7,348.8 L313.3,347.5 L314.0,346.1 L314.6,344.9 L315.2,344.0 L315.8,342.8 L316.4,341.5 L317.1,340.6 L317.7,339.8 L318.9,338.4 L319.5,337.2 L320.2,336.3 L321.4,334.9 L322.7,333.6 L323.9,332.2 L325.2,330.7 L325.8,329.8 L326.4,328.6 L327.0,327.5 L327.6,326.6 L328.3,325.5 L328.9,324.5 L330.1,323.2 L331.4,322.4 L332.2,322.8 L332.7,324.5 L333.0,325.9 L333.7,327.5 L334.3,329.0 L334.9,330.6 L335.5,332.2 L336.1,333.1 L336.8,334.2 L338.0,335.7 L339.3,336.1 L340.5,334.9 L341.8,333.8 L343.0,334.4 L344.2,334.2 L345.5,335.3 L346.7,334.2 L347.4,333.1 L348.0,332.2 L348.6,330.6 L349.2,329.0 L349.8,327.8 L350.5,326.6 L351.7,327.6 L352.5,329.0 L353.0,327.6 L353.4,326.2 L353.8,324.9 L354.4,323.6 L355.0,322.4 L355.7,321.3 L356.3,320.3 L356.9,319.1 L357.5,317.6 L358.1,316.6 L358.8,315.6 L359.4,314.4 L360.0,313.5 L360.6,312.1 L361.4,311.0 L362.0,309.7 L362.6,308.0 L363.3,306.4 L364.0,304.7 L364.6,303.6 L365.3,302.4 L366.0,301.0 L367.0,300.3 L368.0,299.3 L368.9,298.8 L370.0,298.5 L371.0,298.0 L371.9,297.3 L372.9,296.9 L373.9,296.3 L374.9,296.0 L375.9,295.5 L376.9,294.8 L377.9,294.3 L378.9,293.2 L379.9,292.3 L380.9,291.2 L381.9,289.8 L382.9,288.4 L383.9,287.3 L384.9,285.7 L385.9,284.3 L386.9,282.9 L387.9,281.6 L388.9,280.2 L389.9,279.1 L390.9,278.2 L391.9,277.4 L392.8,277.0 L393.9,276.9 L394.8,276.3 L395.8,275.9 L397.3,275.4 L398.3,276.6 L399.1,275.6 L399.8,274.9 L400.8,273.9 L401.8,272.9 L402.8,272.5 L403.8,271.9 L404.8,271.4 L405.8,270.9 L406.8,270.1 L407.8,269.4 L408.8,269.0 L409.8,268.6 L410.8,268.5 L411.8,268.4 L412.7,268.9 L413.8,269.4 L414.7,270.8 L415.8,271.9 L416.5,273.3 L417.0,274.6 L417.8,276.1 L418.4,277.7 L419.1,279.5 L419.7,281.1 L420.4,282.2 L421.1,283.6 L421.7,284.8 L422.5,286.0 L423.2,287.3 L424.3,287.6 L425.2,287.8 L426.2,288.3 L427.2,288.6 L428.2,289.1 L429.2,289.8 L430.2,290.5 L431.2,291.1 L432.2,291.8 L433.2,292.3 L434.2,293.1 L435.2,293.8 L436.2,294.6 L437.2,295.3 L438.2,295.7 L439.2,296.0 L440.2,295.7 L441.2,295.3 L442.1,295.3 L443.1,295.0 L444.2,295.2 L445.1,295.5 L446.2,295.9 L447.1,296.0 L448.1,296.1 L449.1,296.5 L450.2,296.5 L451.1,296.8 L451.7,297.7 L452.1,298.5 L453.1,299.7 L454.1,301.0 L455.1,302.7 L456.1,304.2 L456.6,305.8 L457.1,306.9 L457.6,308.5 L457.8,308.2 L458.5,309.8 L459.2,311.5 L459.8,313.4 L460.5,315.2 L461.2,316.8 L461.9,318.5 L462.4,319.8 L462.9,321.2 L463.3,322.6 L463.8,324.3 L464.2,325.7 L464.5,327.1 L465.0,328.8 L465.4,330.3 L465.8,331.9 L466.2,333.4 L466.6,335.0 L467.0,336.8 L467.2,338.7 L467.6,340.3 L467.9,342.2 L468.1,343.5 L468.4,344.9 L468.7,346.3 L469.4,347.0 L470.1,347.7 L471.8,348.8" fill="none" stroke="#222" stroke-width="1.25" stroke-linejoin="round" stroke-linecap="round"/>
<text class="b" x="380" y="237.5" text-anchor="middle">GC3</text>
<text class="b" x="377" y="408.4" text-anchor="middle">position (%)</text>
<text class="b" style="font-size:7.35px" transform="translate(257,316) rotate(-90)" text-anchor="middle">cumulative GC3</text>
<text class="o" x="279.5" y="407.7">ori</text>
<text class="o" x="465.4" y="407.7">ter</text>
<text class="l" x="240.8" y="232">(<tspan font-weight="bold" stroke="#000" stroke-width="0.3">d</tspan>)</text>
</g>
</svg></body></html>
